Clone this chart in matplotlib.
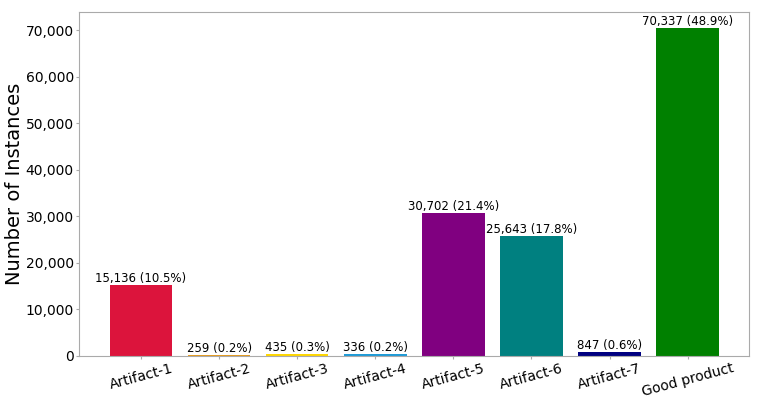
import numpy as np
import matplotlib
matplotlib.use("Agg")
import matplotlib.pyplot as plt

categories = ["Artifact-1", "Artifact-2", "Artifact-3", "Artifact-4",
              "Artifact-5", "Artifact-6", "Artifact-7", "Good product"]
counts = [15136, 259, 435, 336, 30702, 25643, 847, 70337]
colors = ["crimson", "#e69b1e", "gold", "#1f9bd7",
          "purple", "teal", "navy", "green"]

total = sum(counts)

fig, ax = plt.subplots(figsize=(7.63, 4.03), dpi=100)
fig.subplots_adjust(left=0.104, right=0.982, top=0.970, bottom=0.117)

x = np.arange(len(categories))
bars = ax.bar(x, counts, color=colors, width=0.8)

for b, c in zip(bars, counts):
    pct = c / total * 100
    ax.text(b.get_x() + b.get_width() / 2, b.get_height(),
            f"{c:,} ({pct:.1f}%)", ha="center", va="bottom", fontsize=8.5)

ax.set_xticks(x)
ax.set_xticklabels(categories, rotation=15, fontsize=10)
ax.yaxis.set_major_formatter(matplotlib.ticker.FuncFormatter(lambda v, p: f"{int(v):,}"))
ax.tick_params(axis="y", labelsize=10)
ax.set_ylabel("Number of Instances", fontsize=14)
ax.yaxis.set_label_coords(-0.083, 0.5)

for s in ax.spines.values():
    s.set_color("#aaaaaa")
ax.tick_params(colors="#aaaaaa", labelcolor="black", length=2, pad=2)

fig.savefig("out.png", dpi=100)
